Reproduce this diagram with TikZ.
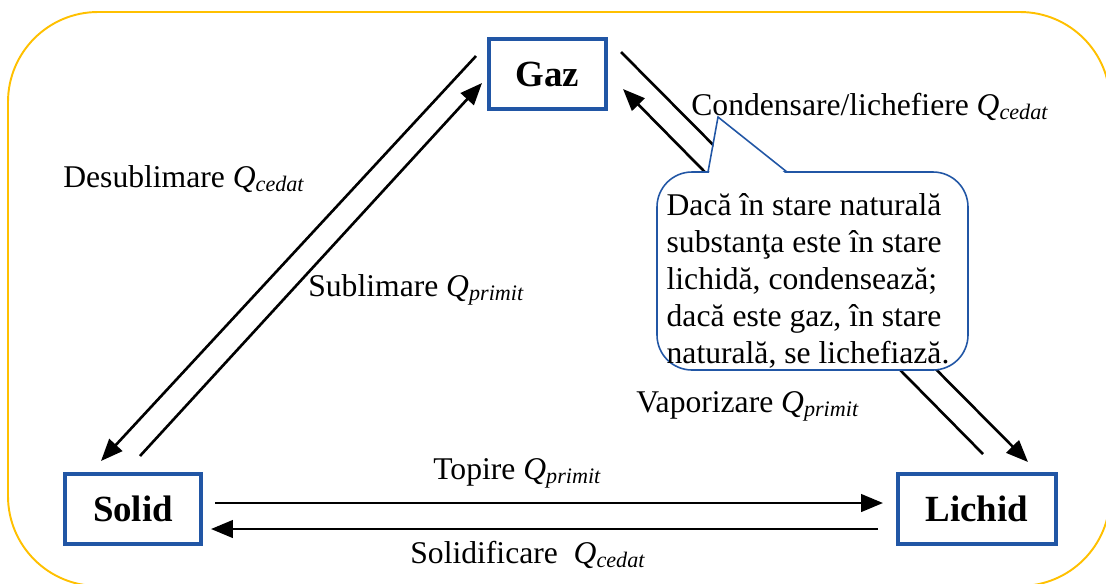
\documentclass[tikz,border=0pt]{standalone}
\usepackage{fontspec}
\setmainfont{Liberation Serif}
\usetikzlibrary{arrows.meta}
\definecolor{boxblue}{HTML}{2156A5}
\definecolor{frameyellow}{HTML}{FFC000}
\newcommand{\Qsub}[1]{\textit{Q}\textsubscript{\textit{#1}}}
\tikzset{
  state/.style={draw=boxblue,line width=2.3pt,minimum height=39.5pt,inner sep=0pt,
    font=\fontsize{21}{24}\selectfont\bfseries},
  flow/.style={line width=1.5pt,-{Triangle[length=12.5pt,width=10pt]}},
  lbl/.style={anchor=base west,inner sep=0pt,font=\fontsize{18}{21}\selectfont},
  bubble/.style={draw=boxblue,line width=0.9pt},
}
\begin{document}
\begin{tikzpicture}[x=0.02cm,y=-0.02cm]
\clip (0,0) rectangle (1106,583);
\draw[frameyellow,line width=1.1pt,rounded corners=1.8cm] (8,12) rectangle (1110,586);
% states
\node[state,minimum width=66.5pt] (Gaz) at (547.5,74) {Gaz};
\node[state,minimum width=77.5pt] (Solid) at (133,509) {Solid};
\node[state,minimum width=90pt] (Lichid) at (977,509) {Lichid};
% arrow ends
\coordinate (gs1) at (476,56);  \coordinate (sg1) at (101,461);
\coordinate (sg2) at (140,456); \coordinate (gs2) at (482,83);
\coordinate (gl1) at (621,52);  \coordinate (lg1) at (1028,462);
\coordinate (lg2) at (983,454); \coordinate (gl2) at (623,89);
\coordinate (sl1) at (215,503); \coordinate (ls1) at (883,503);
\coordinate (ls2) at (878,529); \coordinate (sl2) at (211,529);
\path[flow]
(gs1) edge (sg1)
(sg2) edge (gs2)
(gl1) edge (lg1)
(lg2) edge (gl2)
(sl1) edge (ls1)
(ls2) edge (sl2);
% labels
\node[lbl] (desub) at (63,187) {Desublimare \Qsub{cedat}};
\node[lbl] (sublim) at (308,296) {Sublimare \Qsub{primit}};
\node[lbl] (cond) at (691,115) {Condensare/lichefiere \Qsub{cedat}};
\node[lbl] (vapor) at (636,412) {Vaporizare \Qsub{primit}};
\node[lbl] (topire) at (433,479) {Topire \Qsub{primit}};
\node[lbl] (solidif) at (410,563) {Solidificare\ \ \Qsub{cedat}};
% callout
\draw[bubble,fill=white,rounded corners=0.7cm] (657,172) rectangle (968,370);
\fill[white] (709,174) -- (718,117) -- (786,174) -- cycle;
\draw[bubble,line join=miter] (708,172) -- (718,117) -- (787,172);
\node[align=left,inner sep=0pt,font=\fontsize{18}{21}\selectfont] (note) at (808,281)
  {Dacă în stare naturală\\substanţa este în stare\\lichidă, condensează;\\dacă este gaz, în stare\\naturală, se lichefiază.};
\end{tikzpicture}
\end{document}
